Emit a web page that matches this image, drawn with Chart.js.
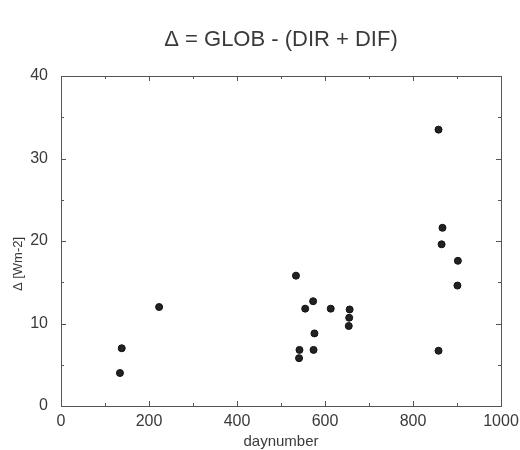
<!DOCTYPE html>
<html>
<head>
<meta charset="utf-8">
<script src="https://cdn.jsdelivr.net/npm/chart.js@4/dist/chart.umd.min.js"></script>
<style>
html,body{margin:0;padding:0;background:#fff;}
#wrap{width:520px;height:450px;}
</style>
</head>
<body>
<div id="wrap"><canvas id="c" width="520" height="450"></canvas></div>
<script>
const titleText = "\u0394 = GLOB - (DIR + DIF)";
const xTitle = "daynumber";
const yTitle = "\u0394 [Wm-2]";
const dayNumbers = [134, 138, 223, 534, 573, 555, 613, 656, 655, 654, 576, 542, 574, 541, 858, 867, 865, 902, 901, 858];
const deltaValues = [4.0, 7.0, 12.0, 15.8, 12.7, 11.8, 11.8, 11.7, 10.7, 9.7, 8.8, 6.8, 6.8, 5.8, 33.5, 21.6, 19.6, 17.6, 14.6, 6.7];
const xTicks = [0, 200, 400, 600, 800, 1000];
const yTicks = [0, 10, 20, 30, 40];

const points = dayNumbers.map((d, i) => ({x: d, y: deltaValues[i]}));
const txtColor = '#3a3a3a';
const fontFam = '"Liberation Sans", Arial, sans-serif';

const framePlugin = {
  id: 'frame',
  afterDraw(chart) {
    const ctx = chart.ctx, a = chart.chartArea;
    const xs = chart.scales.x, ys = chart.scales.y;
    ctx.save();
    ctx.strokeStyle = '#555';
    ctx.lineWidth = 1;
    ctx.strokeRect(a.left + 0.5, a.top + 0.5, a.right - a.left, a.bottom - a.top);
    ctx.beginPath();
    for (let v = 0; v <= 1000; v += 100) {
      const px = Math.round(xs.getPixelForValue(v)) + 0.5;
      const len = (v % 200 === 0) ? 5 : 3;
      ctx.moveTo(px, a.bottom); ctx.lineTo(px, a.bottom - len);
      ctx.moveTo(px, a.top); ctx.lineTo(px, a.top + len);
    }
    for (let v = 0; v <= 40; v += 5) {
      const py = Math.round(ys.getPixelForValue(v)) + 0.5;
      const len = (v % 10 === 0) ? 5 : 3;
      ctx.moveTo(a.left, py); ctx.lineTo(a.left + len, py);
      ctx.moveTo(a.right, py); ctx.lineTo(a.right - len, py);
    }
    ctx.stroke();
    ctx.fillStyle = txtColor;
    ctx.textAlign = 'center';
    ctx.textBaseline = 'middle';
    ctx.font = '22px ' + fontFam;
    ctx.fillText(titleText, (a.left + a.right) / 2, 40);
    ctx.font = '15px ' + fontFam;
    ctx.fillText(xTitle, (a.left + a.right) / 2, 442);
    ctx.translate(18, 264);
    ctx.rotate(-Math.PI / 2);
    ctx.font = '13px ' + fontFam;
    ctx.fillText(yTitle, 0, 0);
    ctx.restore();
  }
};

new Chart(document.getElementById('c'), {
  type: 'scatter',
  data: {
    datasets: [{
      data: points,
      backgroundColor: '#222',
      borderColor: '#111',
      borderWidth: 1,
      pointRadius: 3.5,
      pointHoverRadius: 3.5
    }]
  },
  options: {
    responsive: false,
    animation: false,
    layout: {padding: {left: 0, right: 19, top: 76, bottom: 0}},
    plugins: {legend: {display: false}, tooltip: {enabled: false}, title: {display: false}},
    scales: {
      x: {
        type: 'linear', min: 0, max: 1000,
        afterBuildTicks: s => { s.ticks = xTicks.map(v => ({value: v})); },
        afterFit: s => { s.height = 44; s.paddingLeft = 0; s.paddingRight = 0; },
        grid: {display: false, drawTicks: false},
        border: {display: false},
        ticks: {color: txtColor, font: {family: fontFam, size: 16}, padding: 6, maxRotation: 0, callback: v => String(v)}
      },
      y: {
        type: 'linear', min: 0, max: 40,
        afterBuildTicks: s => { s.ticks = yTicks.map(v => ({value: v})); },
        afterFit: s => { s.width = 61; s.paddingTop = 0; s.paddingBottom = 0; },
        grid: {display: false, drawTicks: false},
        border: {display: false},
        ticks: {color: txtColor, font: {family: fontFam, size: 16}, padding: 13, callback: v => String(v)}
      }
    }
  },
  plugins: [framePlugin]
});
</script>
</body>
</html>
